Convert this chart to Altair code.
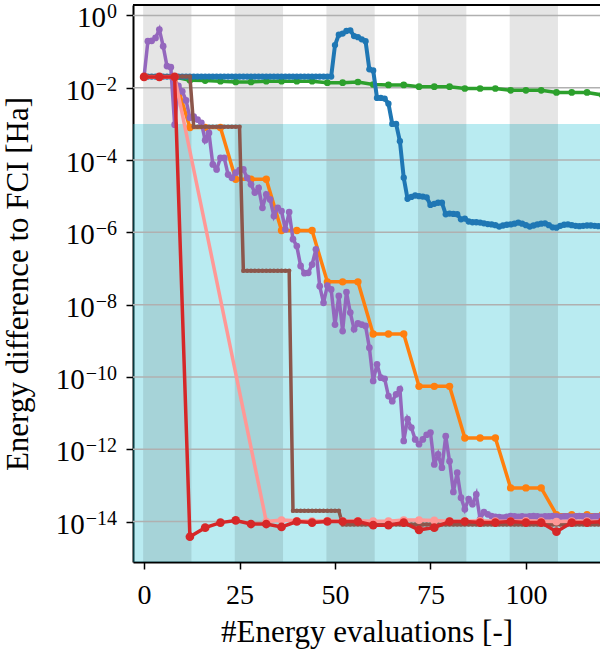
import altair as alt
import pandas as pd

# ---------------------------------------------------------------
# Convergence of the energy error (log10 of |E - E_FCI| in Ha)
# ---------------------------------------------------------------
x_step1 = list(range(0, 121))
x_step4 = list(range(0, 121, 4))

blue_x = x_step1
blue_exp = [-1.69] * 50 + [
    -0.82, -0.53, -0.50, -0.43, -0.41, -0.57, -0.60, -0.66, -0.71, -1.49,
    -1.52, -2.28, -2.28, -2.30, -2.44, -3.00, -3.00, -3.48, -4.49, -5.07,
    -5.02, -4.98, -5.00, -5.01, -5.03, -5.24, -5.21, -5.18, -5.18, -5.50,
    -5.48, -5.49, -5.50, -5.64, -5.62, -5.70, -5.72, -5.72, -5.73, -5.75,
    -5.77, -5.78, -5.80, -5.84, -5.81, -5.79, -5.78, -5.76, -5.73, -5.76,
    -5.80, -5.84, -5.81, -5.78, -5.76, -5.75, -5.80, -5.86, -5.87, -5.82,
    -5.79, -5.78, -5.80, -5.82, -5.83, -5.82, -5.81, -5.81, -5.82, -5.83,
    -5.83,
]

green_x = x_step4
green_exp = [
    -1.70, -1.70, -1.70, -1.79, -1.80, -1.82, -1.84, -1.84, -1.82, -1.82,
    -1.82, -1.82, -1.86, -1.86, -1.84, -1.91, -1.92, -1.92, -1.97, -1.97,
    -1.97, -2.02, -2.02, -2.02, -2.07, -2.07, -2.07, -2.13, -2.13, -2.13,
    -2.20,
]

orange_x = x_step4
orange_exp = [
    -1.70, -1.70, -1.70, -3.10, -3.10, -3.10, -4.53, -4.53, -4.53,
    -5.95, -5.95, -5.95, -7.37, -7.37, -7.37, -8.81, -8.81, -8.81,
    -10.26, -10.26, -10.26, -11.69, -11.69, -11.69, -13.07, -13.07, -13.07,
    -13.81, -13.81, -13.81, -13.81,
]

purple_x = x_step1
purple_exp = [
    -1.70, -0.71, -0.70, -0.62, -0.39, -0.85, -1.40, -1.43, -3.02, -1.95,
    -2.10, -2.35, -2.83, -2.80, -2.88, -2.97, -3.45, -3.25, -4.12, -4.26,
    -3.94, -3.94, -4.40, -4.49, -4.35, -4.28, -4.26, -4.49, -4.67, -4.90,
    -4.77, -5.32, -4.95, -5.09, -5.55, -5.32, -5.41, -5.92, -5.44, -6.19,
    -6.38, -6.93, -7.13, -7.12, -6.89, -6.47, -7.49, -7.95, -7.47, -7.58,
    -8.55, -7.76, -8.73, -7.65, -8.22, -8.68, -8.52, -8.55, -8.59, -9.19,
    -10.11, -9.65, -10.02, -10.05, -10.53, -10.67, -10.48, -10.34, -11.77, -11.17,
    -11.40, -11.73, -11.86, -11.73, -11.60, -11.54, -12.42, -12.14, -12.51, -11.64,
    -12.33, -13.18, -12.65, -13.34, -13.66, -13.38, -13.52, -13.25, -13.94, -13.74,
    -13.80, -13.85, -13.87, -13.88, -13.89, -13.87, -13.85, -13.86, -13.87, -13.86,
    -13.87, -13.86, -13.85, -13.86, -13.87, -13.86, -13.86, -13.85, -13.86, -13.87,
    -13.86, -13.86, -13.87, -13.86, -13.85, -13.86, -13.86, -13.87, -13.86, -13.86,
    -13.86,
]

brown_x = x_step1
brown_exp = ([-1.69] * 13 + [-3.08] * 13 + [-7.06] * 13
             + [-13.70] * 13 + [-14.08] * 69)

pink_x = [0, 4, 8] + list(range(32, 121, 4))
pink_exp = [
    -1.70, -1.70, -1.70,
    -14.00, -13.96, -13.98, -13.99, -13.98, -13.99, -13.98, -13.99,
    -13.99, -13.96, -13.96, -13.97, -13.99, -13.99, -13.98, -13.99,
    -13.99, -13.98, -13.99, -14.00, -13.99, -13.99, -13.99,
]

red_x = x_step4
red_exp = [
    -1.70, -1.70, -1.70, -14.42, -14.17, -14.03, -13.97, -14.07, -14.07, -14.15,
    -14.00, -14.03, -14.00, -14.00, -14.00, -14.10, -14.10, -14.03, -14.23, -14.17,
    -14.00, -14.00, -14.03, -14.03, -14.00, -14.03, -14.03, -14.28, -14.03, -14.03,
    -14.00,
]

# shaded iteration blocks and accuracy threshold
block_start = [-0.25, 23.75, 47.75, 71.75, 95.75, 119.75]
block_end = [12.4, 36.4, 60.4, 84.4, 108.4, 132.4]
accuracy = 1e-3
tick_powers = [0, -2, -4, -6, -8, -10, -12, -14]
decades = [10.0 ** p for p in tick_powers]

# ---------------------------------------------------------------
W, H = 467, 557
FONT = "Liberation Serif"
X_TITLE = "#Energy evaluations [-]"
Y_TITLE = "Energy difference to FCI [Ha]"
BASE_SIZE, SUP_SIZE = 29, 20
LABEL_RIGHT = -16          # right edge of the y tick labels, relative to the axis

x_scale = alt.Scale(domain=[-2.9, 119.4], nice=False, zero=False)
y_scale = alt.Scale(type="log", domain=[10 ** -15.12, 10 ** 0.29], nice=False)

x_axis = alt.Axis(values=[0, 25, 50, 75, 100], title=X_TITLE, format="d",
                  labelPadding=12, titlePadding=8, labelFontSize=28)
y_axis = alt.Axis(values=decades, title=Y_TITLE, labels=False, titlePadding=91)


def X(field):
    return alt.X(field, type="quantitative", scale=x_scale, axis=x_axis, title=X_TITLE)


def Y(field):
    return alt.Y(field, type="quantitative", scale=y_scale, axis=y_axis, title=Y_TITLE)


acc_band = alt.Chart(pd.DataFrame({"y": [accuracy]})).mark_rect(
    color="#17becf", opacity=0.3
).encode(x=alt.value(0), x2=alt.value(W), y=Y("y"), y2=alt.value(H))

blocks = alt.Chart(pd.DataFrame({"x": block_start, "x2": block_end})).mark_rect(
    color="black", opacity=0.1, clip=True
).encode(x=X("x"), x2="x2:Q", y=alt.value(0), y2=alt.value(H))

grid = alt.Chart(pd.DataFrame({"y": decades})).mark_rule(
    color="#b0b0b0", strokeWidth=1.5
).encode(y=Y("y"), x=alt.value(0), x2=alt.value(W))

top_spine = alt.Chart(pd.DataFrame({"y": [0]})).mark_rule(
    color="black", strokeWidth=2
).encode(y=alt.value(0), x=alt.value(0), x2=alt.value(W))


# y tick labels as "10" with a raised exponent
def exp_text(p):
    return "0" if p == 0 else "\u2212" + str(-p)


def exp_width(s):
    # advance widths of the serif face: digits 0.5 em, minus sign 0.564 em
    return sum(0.564 if c == "\u2212" else 0.5 for c in s) * SUP_SIZE


tick_df = pd.DataFrame({
    "y": decades,
    "base": ["10"] * len(tick_powers),
    "sup": [exp_text(p) for p in tick_powers],
})
tick_df["n"] = tick_df["sup"].str.len()

sup_labels = alt.Chart(tick_df).mark_text(
    align="right", baseline="alphabetic", font=FONT, fontSize=SUP_SIZE,
    color="black", dy=3
).encode(x=alt.value(LABEL_RIGHT), y=Y("y"), text="sup:N")

base_labels = []
for n in sorted(tick_df["n"].unique()):
    sub = tick_df[tick_df["n"] == n]
    shift = exp_width(sub["sup"].iloc[0]) + 1
    base_labels.append(
        alt.Chart(sub).mark_text(
            align="right", baseline="alphabetic", font=FONT, fontSize=BASE_SIZE,
            color="black", dy=12
        ).encode(x=alt.value(LABEL_RIGHT - shift), y=Y("y"), text="base:N")
    )


def series(xs, exps, color, width, size):
    df = pd.DataFrame({"x": xs, "y": [10.0 ** e for e in exps]})
    base = alt.Chart(df).encode(x=X("x"), y=Y("y"))
    line = base.mark_line(color=color, strokeWidth=width, clip=True)
    pts = base.mark_circle(color=color, size=size, opacity=1, clip=True)
    return alt.layer(line, pts)


chart = alt.layer(
    acc_band,
    blocks,
    grid,
    series(green_x, green_exp, "#2ca02c", 3.5, 45),
    series(blue_x, blue_exp, "#1f77b4", 4, 40),
    series(orange_x, orange_exp, "#ff7f0e", 3.5, 55),
    series(purple_x, purple_exp, "#9467bd", 3.5, 45),
    series(brown_x, brown_exp, "#8c564b", 3.5, 20),
    series(pink_x, pink_exp, "#ff9896", 3.5, 60),
    series(red_x, red_exp, "#d62728", 3.5, 75),
    top_spine,
    sup_labels,
    *base_labels,
).properties(
    width=W, height=H,
    autosize=alt.AutoSizeParams(type="none"),
    padding={"left": 133, "top": 5, "right": 0, "bottom": 90},
).configure_view(stroke=None).configure_axis(
    domainColor="black", domainWidth=2, tickColor="black", tickWidth=1.5,
    tickSize=7, grid=False, labelFont=FONT, titleFont=FONT,
    titleFontSize=31, titleFontWeight="normal", labelColor="black",
    titleColor="black",
)

chart.save("out.html", embed_options={"renderer": "svg", "actions": False})
